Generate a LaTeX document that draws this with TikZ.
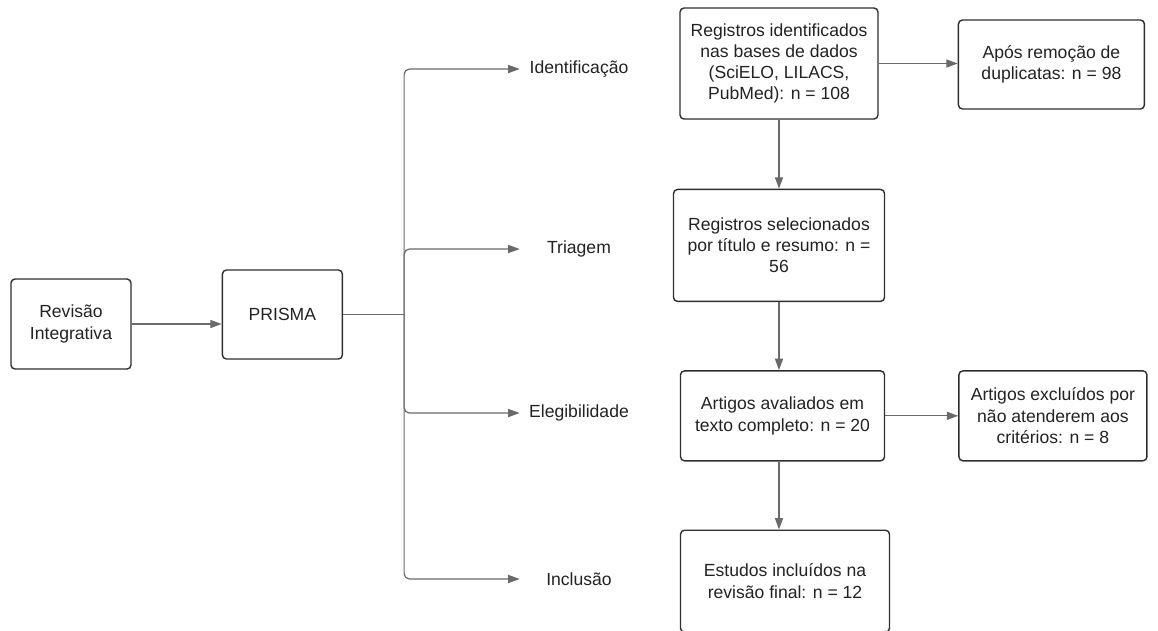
\documentclass[tikz,border=0pt]{standalone}
\usepackage{fontspec}
\setmainfont{Liberation Sans}
\usepackage{tikz}
\usetikzlibrary{arrows.meta}
\usetikzlibrary{positioning}
\definecolor{boxline}{HTML}{2E2E2E}
\definecolor{conline}{HTML}{6A6A6A}
\definecolor{txt}{HTML}{222222}
\tikzstyle{block} = [rectangle, draw=boxline, line width=0.8pt, rounded corners=2.3pt, text=txt, font=\fontsize{10}{12.1}\selectfont]
\tikzstyle{lbl} = [text=txt, minimum width=2.36cm, inner sep=0pt, font=\fontsize{10}{12.1}\selectfont]
\tikzstyle{arrow} = [draw=conline, line width=0.7pt, -{Triangle[length=6.5pt,width=4.6pt]}, color=conline]

\begin{document}
\begin{tikzpicture}[every text node part/.style={align=center}]
   \useasboundingbox (0,0) rectangle (23.16,-12.6);
   % Place nodes
   \node [block, minimum width=2.4cm, minimum height=1.8cm] (rev) at (1.42,-6.48) {Revisão \\ Integrativa};
   \node [block, minimum width=2.4cm, minimum height=1.78cm, right = 1.8cm of rev, yshift=0.19cm] (prisma) {PRISMA};
   \coordinate [right = 1.22cm of prisma] (br);
   \node [block, minimum width=3.96cm, minimum height=2.22cm] (reg) at (15.58,-1.27) {Registros identificados \\ nas bases de dados \\ (SciELO, LILACS, \\ PubMed): n = 108};
   \node [block, minimum width=3.72cm, minimum height=1.78cm, right = 1.58cm of reg, yshift=-0.02cm] (apos) {Após remoção de \\ duplicatas: n = 98};
   \node [block, minimum width=4.22cm, minimum height=2.24cm, below = 1.38cm of reg] (sel) {Registros selecionados \\ por título e resumo: n = \\ 56};
   \node [block, minimum width=4.08cm, minimum height=1.8cm, below = 1.36cm of sel, xshift=0.07cm] (aval) {Artigos avaliados em \\ texto completo: n = 20};
   \node [block, minimum width=3.76cm, minimum height=1.8cm, right = 1.46cm of aval] (excl) {Artigos excluídos por \\ não atenderem aos \\ critérios: n = 8};
   \node [block, minimum width=4.18cm, minimum height=2.04cm, below = 1.36cm of aval, xshift=0.05cm] (est) {Estudos incluídos na \\ revisão final: n = 12};
   % Stage labels
   \node [lbl] (ident) at (11.58,-1.38) {Identificação};
   \node [lbl] (triag) at (11.58,-4.98) {Triagem};
   \node [lbl] (eleg) at (11.58,-8.26) {Elegibilidade};
   \node [lbl] (incl) at (11.58,-11.58) {Inclusão};
   % Connectors
   \draw[arrow] (rev.east) -- (rev.east -| prisma.west);
   \draw[draw=conline, line width=0.7pt] (prisma.east) -- (br);
   \draw[arrow, rounded corners=3pt] (br) |- (ident.west);
   \draw[arrow, rounded corners=3pt] (br) |- (triag.west);
   \draw[arrow, rounded corners=3pt] (br) |- (eleg.west);
   \draw[arrow, rounded corners=3pt] (br) |- (incl.west);
   \draw[arrow] (reg.east) -- (reg.east -| apos.west);
   \draw[arrow] (reg.south) -- (sel.north);
   \draw[arrow] (sel.south) -- (sel.south |- aval.north);
   \draw[arrow] (aval.east) -- (excl.west);
   \draw[arrow] (sel.south |- aval.south) -- (sel.south |- est.north);

\end{tikzpicture}
\end{document}
